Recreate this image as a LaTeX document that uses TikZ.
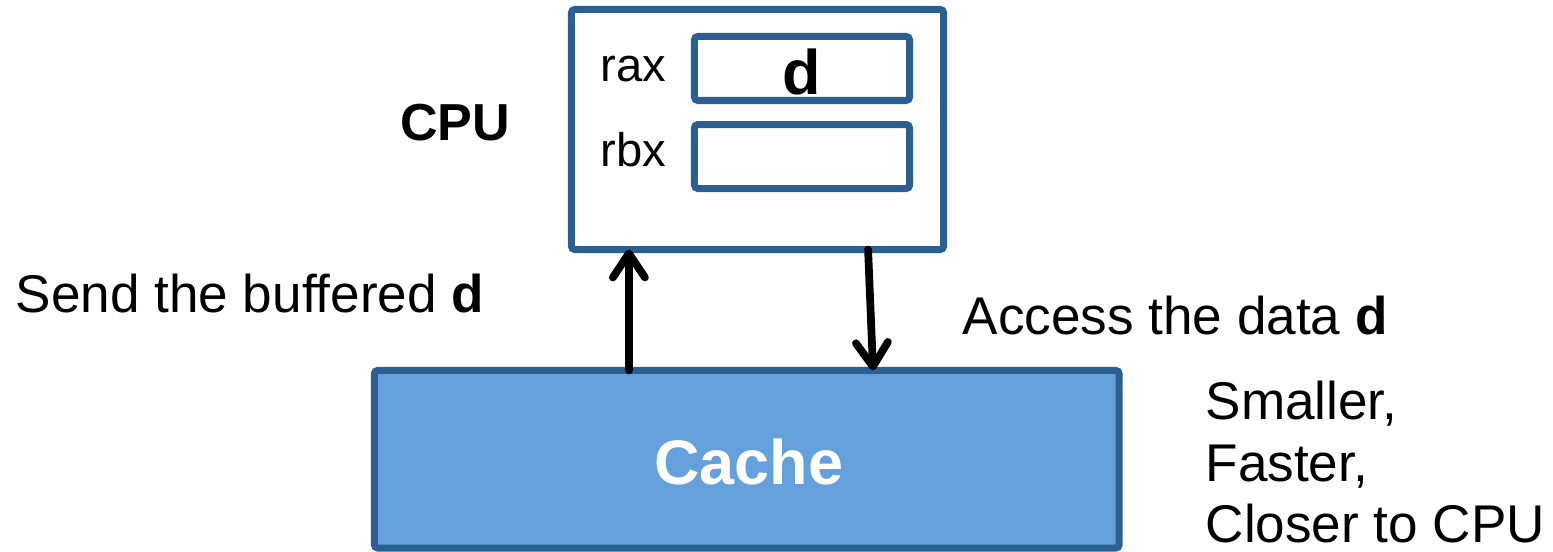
\documentclass[tikz,border=0pt]{standalone}
\usepackage{fontspec}
\setmainfont{Liberation Sans}
\usepackage{tikz}
\usetikzlibrary{positioning,arrows.meta}
\definecolor{boxblue}{HTML}{2B5F92}
\definecolor{cacheblue}{HTML}{64A0DC}

\tikzset{
  unit/.style={draw=boxblue, line width=2pt, rounded corners=1pt, outer sep=0pt, inner sep=0pt},
  reg/.style={unit, minimum width=2.15cm, minimum height=0.64cm},
  arr/.style={line width=2.2pt, line cap=round, -{Straight Barb[length=2.4mm,width=3.2mm,line cap=round,line join=round]}},
  txt/.style={inner sep=0pt, font=\fontsize{15.1}{17.6}\selectfont},
}

\begin{document}
\begin{tikzpicture}[x=0.01cm,y=-0.01cm]
\useasboundingbox (0,0) rectangle (1553,552);

\node[unit, minimum width=3.72cm, minimum height=2.4cm] (cpu) at (757.5,129.5) {};
\node[reg] (rax) at (802,68.5) {};
\node[reg, below=0.24cm of rax] (rbx) {};
\node[unit, fill=cacheblue, minimum width=7.445cm, minimum height=1.775cm] (cache) at (746.75,459.25) {};

\node[txt, font=\bfseries\fontsize{14.8}{17}\selectfont] (cpulbl) at (455,123) {CPU};
\node[txt, font=\fontsize{13.4}{16}\selectfont, anchor=base west] (raxlbl) at (600,82) {rax};
\node[txt, font=\fontsize{13.4}{16}\selectfont, anchor=base west] (rbxlbl) at (600,167) {rbx};
\node[txt, font=\bfseries\fontsize{17.9}{20}\selectfont, anchor=base] (val) at (801.5,95) {d};
\node[txt, font=\bfseries\fontsize{17.9}{20}\selectfont, text=white, anchor=base] (cachelbl) at (749,485) {Cache};

\node[txt, anchor=base west] (send) at (15,313) {Send the buffered \textbf{d}};
\node[txt, anchor=base west] (access) at (962,335) {Access the data \textbf{d}};
\node[txt, anchor=north west, align=left] (props) at (1205,380) {Smaller,\\Faster,\\Closer to CPU};

% read and write between cache and cpu
\draw[arr] ([xshift=-1.1775cm]cache.north) -- ([xshift=-1.285cm]cpu.south);
\draw[arr] ([xshift=1.105cm]cpu.south) -- ([xshift=1.2625cm]cache.north);

\end{tikzpicture}
\end{document}
